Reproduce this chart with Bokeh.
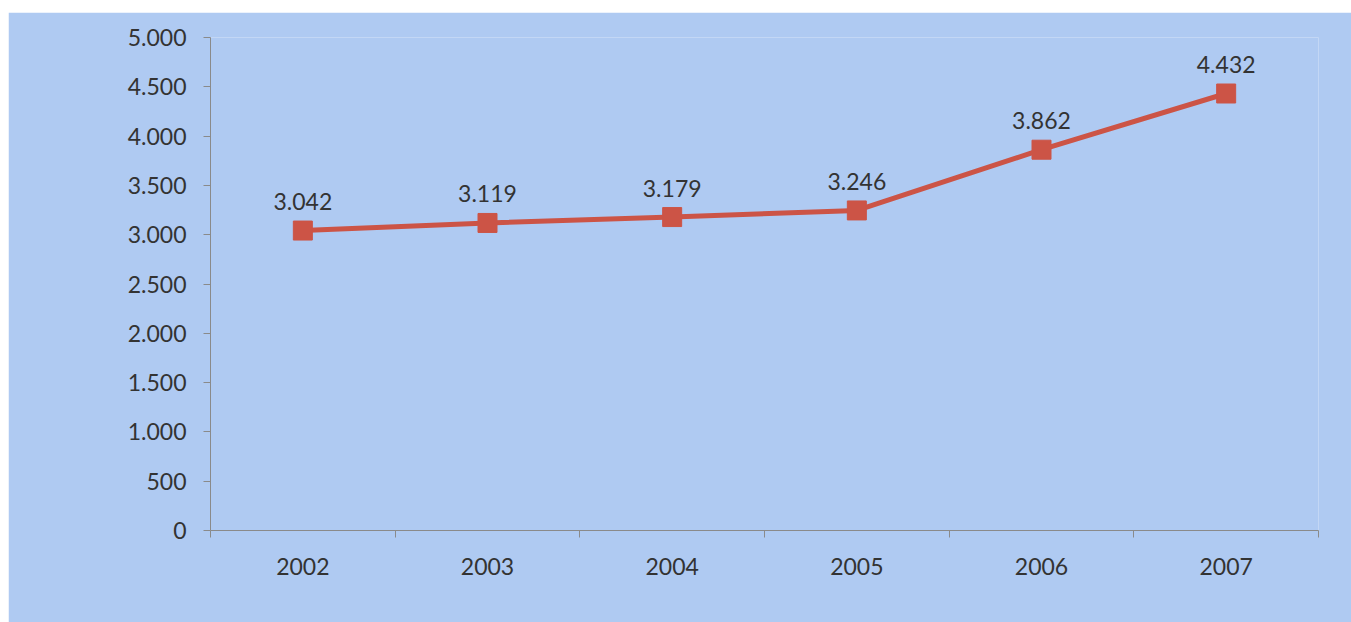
from bokeh.plotting import figure
from bokeh.models import Range1d, FixedTicker, ColumnDataSource
from bokeh.core.properties import value
from bokeh.embed import file_html
from bokeh.resources import INLINE

years = ["2002", "2003", "2004", "2005", "2006", "2007"]
values = [3042, 3119, 3179, 3246, 3862, 4432]
point_labels = ["3.042", "3.119", "3.179", "3.246", "3.862", "4.432"]
y_ticks = [0, 500, 1000, 1500, 2000, 2500, 3000, 3500, 4000, 4500, 5000]
y_tick_labels = ["0", "500", "1.000", "1.500", "2.000", "2.500", "3.000",
                 "3.500", "4.000", "4.500", "5.000"]

FONT = "Lato"
BG = "#afcaf2"
TXT = "#333333"
LINE = "#cc5446"

n = len(years)
xs = [i + 0.5 for i in range(n)]
src = ColumnDataSource(dict(x=xs, y=values, lab=point_labels))

p = figure(width=1343, height=610, output_backend="svg", toolbar_location=None,
           x_range=Range1d(0, n), y_range=Range1d(0, 5000),
           min_border_left=202, min_border_right=33,
           min_border_top=25, min_border_bottom=92)
p.margin = (12, 0, 0, 8)
p.background_fill_color = BG
p.border_fill_color = BG
p.outline_line_color = None
p.grid.grid_line_color = None

# y axis
ya = p.yaxis[0]
ya.ticker = FixedTicker(ticks=y_ticks)
ya.major_label_overrides = {t: l for t, l in zip(y_ticks, y_tick_labels)}
ya.axis_line_color = "#8a8a8a"
ya.major_tick_line_color = "#8a8a8a"
ya.major_tick_out = 7
ya.major_tick_in = 0
ya.minor_tick_line_color = None
ya.major_label_text_font = FONT
ya.major_label_text_font_size = "23px"
ya.major_label_text_color = TXT
ya.major_label_standoff = 17

# x axis: labels at category centers, ticks at boundaries
xa = p.xaxis[0]
xa.ticker = FixedTicker(ticks=xs, minor_ticks=list(range(n + 1)))
xa.major_label_overrides = {x: y for x, y in zip(xs, years)}
xa.axis_line_color = "#8a8a8a"
xa.major_tick_line_color = None
xa.major_tick_out = 0
xa.major_tick_in = 0
xa.minor_tick_line_color = "#8a8a8a"
xa.minor_tick_out = 7
xa.minor_tick_in = 0
xa.major_label_text_font = FONT
xa.major_label_text_font_size = "23px"
xa.major_label_text_color = TXT
xa.major_label_standoff = 20

p.line("x", "y", source=src, line_color=LINE, line_width=5)
p.scatter("x", "y", source=src, marker="square", size=19,
          fill_color=LINE, line_color=LINE)
p.text("x", "y", text="lab", source=src, text_align="center",
       text_baseline="alphabetic", y_offset=-29,
       text_font=value(FONT), text_font_size="23px", text_color=TXT)

open("out.html", "w").write(file_html(p, INLINE))
